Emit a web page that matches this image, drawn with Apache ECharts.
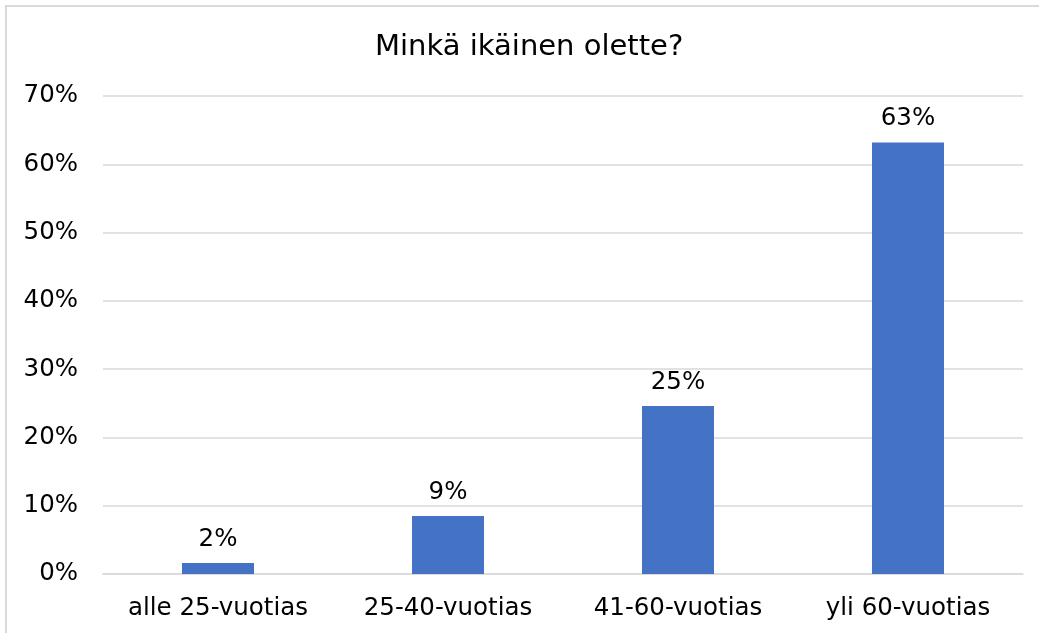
<!DOCTYPE html>
<html>
<head>
<meta charset="utf-8">
<script src="https://cdn.jsdelivr.net/npm/echarts@6/dist/echarts.min.js"></script>
<style>
  html, body { margin: 0; padding: 0; background: #fff; overflow: hidden; }
  #frame {
    position: absolute; left: 5px; top: 5px; width: 1060px; height: 660px;
    border: 2px solid #d9d9d9; box-sizing: border-box;
  }
  #chart { position: absolute; left: 0; top: 0; width: 1039px; height: 633px; }
</style>
</head>
<body>
<div id="frame"></div>
<div id="chart"></div>
<script>
// ikäryhmät ja osuudet
var categories = ['alle 25-vuotias', '25-40-vuotias', '41-60-vuotias', 'yli 60-vuotias'];
var shares = [0.016, 0.085, 0.246, 0.632];
var titleText = 'Minkä ikäinen olette?';

var font = 'DejaVu Sans';
var chart = echarts.init(document.getElementById('chart'));

var option = {
    animation: false,
    textStyle: { fontFamily: font },
    title: {
        text: titleText,
        left: 370,
        top: 28,
        textStyle: { fontFamily: font, fontSize: 29, fontWeight: 'normal', color: '#000' }
    },
    grid: {
        left: 103,
        right: 16,
        top: 96,
        bottom: 59
    },
    xAxis: {
        type: 'category',
        data: categories,
        axisTick: { show: false },
        axisLine: { lineStyle: { color: '#d9d9d9', width: 1.5 } },
        axisLabel: { interval: 0, fontSize: 24.5, color: '#000', margin: 22, fontFamily: font }
    },
    yAxis: {
        type: 'value',
        min: 0,
        max: 0.7,
        interval: 0.1,
        axisLine: { show: false },
        axisTick: { show: false },
        splitLine: { lineStyle: { color: '#d9d9d9', width: 1.5 } },
        axisLabel: {
            fontSize: 24.5, color: '#000', margin: 25, fontFamily: font,
            formatter: function (v) { return Math.round(v * 100) + '%'; }
        }
    },
    series: [
        {
            type: 'bar',
            data: shares,
            barWidth: 72,
            itemStyle: { color: '#4472C4' },
            label: {
                show: true,
                position: 'top',
                distance: 11,
                fontSize: 24.5,
                color: '#000',
                fontFamily: font,
                formatter: function (p) { return Math.round(p.value * 100) + '%'; }
            }
        }
    ]
};

chart.setOption(option);
</script>
</body>
</html>
